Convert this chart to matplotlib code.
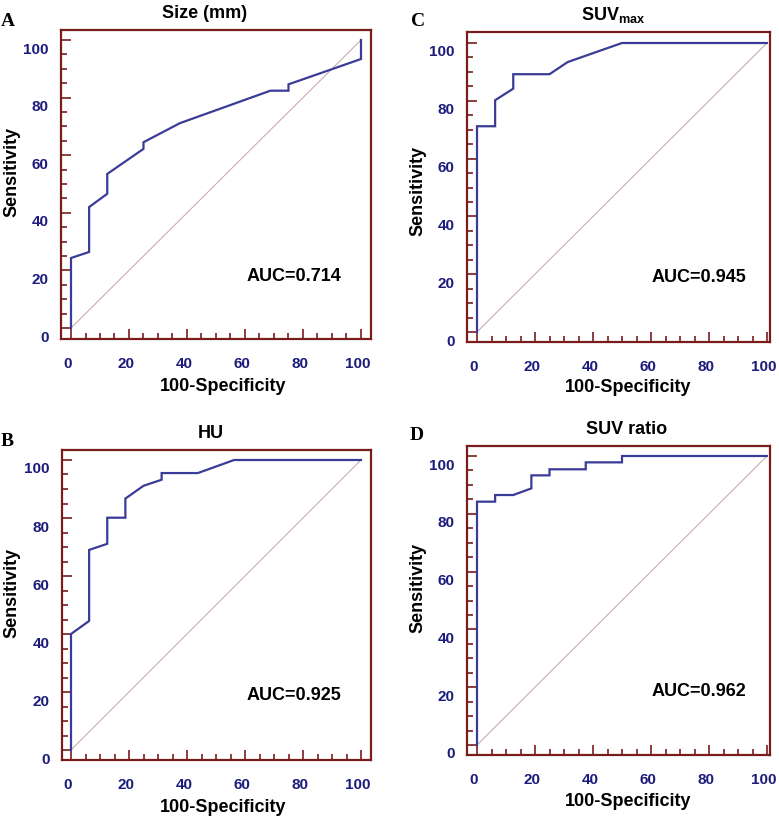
import matplotlib
matplotlib.use("Agg")
import matplotlib.pyplot as plt
import matplotlib.transforms as mtransforms
from matplotlib.ticker import MultipleLocator

# ---- data ----
size_fpr = [0, 0, 6.25, 6.25, 12.5, 12.5, 25, 25, 37.5, 68.75, 75, 75, 100, 100]
size_tpr = [0, 24.3, 26.4, 42.0, 46.6, 53.5, 62.2, 64.5, 71.1, 82.4, 82.4, 84.6, 93.4, 100]

hu_fpr = [0, 0, 6.25, 6.25, 12.5, 12.5, 18.75, 18.75, 25, 31.25, 31.25, 43.75, 56.25, 100]
hu_tpr = [0, 40.0, 44.5, 69.0, 71.1, 80.1, 80.1, 86.7, 91.1, 93.2, 95.5, 95.5, 100, 100]

suvmax_fpr = [0, 0, 6.25, 6.25, 12.5, 12.5, 25, 31.25, 50, 100]
suvmax_tpr = [0, 71.2, 71.2, 80.2, 84.2, 89.2, 89.2, 93.4, 100, 100]

suvratio_fpr = [0, 0, 6.25, 6.25, 12.5, 18.75, 18.75, 25, 25, 37.5, 37.5, 50, 50, 100]
suvratio_tpr = [0, 84.2, 84.2, 86.5, 86.5, 88.8, 93.3, 93.3, 95.4, 95.4, 97.8, 97.8, 100, 100]

titles = ["Size (mm)", "HU", r"SUV$_{\mathregular{max}}$", "SUV ratio"]
aucs = ["AUC=0.714", "AUC=0.925", "AUC=0.945", "AUC=0.962"]
letters = ["A", "B", "C", "D"]
tick_vals = [0, 20, 40, 60, 80, 100]

# ---- style ----
W, H = 779, 817
FRAME = "#7a1c1c"
NAVY = "#1c1c7c"
CURVE = "#3b3b98"
DIAG = "#c4a2a2"
plt.rcParams["font.family"] = ["Liberation Sans", "DejaVu Sans"]
plt.rcParams["mathtext.fontset"] = "custom"
plt.rcParams["mathtext.rm"] = "Liberation Sans:bold"

fig = plt.figure(figsize=(W / 100, H / 100), dpi=100)

def px_rect(l, t, r, b):
    return [l / W, 1 - b / H, (r - l) / W, (b - t) / H]

def fx(x):
    return x / W

def fy(y):
    return 1 - y / H

# pixel geometry: frame (l,t,r,b), data x0,x100, y0,y100
panels = [
    dict(frame=(61, 30, 371, 339), x0=71, x100=361, y0=328, y100=40,
         fpr=size_fpr, tpr=size_tpr, title=titles[0], title_xy=(205, 13),
         auc=aucs[0], auc_xy=(294, 276), letter=letters[0], letter_xy=(8, 22),
         ylab_xy=(12, 172), xlab_xy=(223, 387)),
    dict(frame=(62, 450, 371, 760), x0=71, x100=361, y0=750, y100=460,
         fpr=hu_fpr, tpr=hu_tpr, title=titles[1], title_xy=(211, 433),
         auc=aucs[1], auc_xy=(294, 695), letter=letters[1], letter_xy=(7, 442),
         ylab_xy=(12, 593), xlab_xy=(223, 807)),
    dict(frame=(467, 32, 770, 342), x0=477, x100=767, y0=332, y100=43,
         fpr=suvmax_fpr, tpr=suvmax_tpr, title=titles[2], title_xy=(613, 15),
         auc=aucs[2], auc_xy=(699, 278), letter=letters[2], letter_xy=(418, 21),
         ylab_xy=(418, 191), xlab_xy=(628, 388)),
    dict(frame=(467, 446, 770, 755), x0=477, x100=767, y0=745, y100=456,
         fpr=suvratio_fpr, tpr=suvratio_tpr, title=titles[3], title_xy=(627, 430),
         auc=aucs[3], auc_xy=(699, 691), letter=letters[3], letter_xy=(417, 435),
         ylab_xy=(418, 588), xlab_xy=(628, 802)),
]

for p in panels:
    l, t, r, b = p["frame"]
    ax = fig.add_axes(px_rect(l, t, r, b))
    sx = (p["x100"] - p["x0"]) / 100.0
    sy = (p["y0"] - p["y100"]) / 100.0
    ax.set_xlim(-(p["x0"] - l) / sx, 100 + (r - p["x100"]) / sx)
    ax.set_ylim(-(b - p["y0"]) / sy, 100 + (p["y100"] - t) / sy)

    ax.plot([0, 100], [0, 100], color=DIAG, lw=0.7, zorder=2)
    ax.plot(p["fpr"], p["tpr"], color=CURVE, lw=1.6, zorder=3,
            solid_joinstyle="miter")

    for s in ax.spines.values():
        s.set_color(FRAME)
        s.set_linewidth(1.6)

    ax.set_xticks(tick_vals)
    ax.set_yticks(tick_vals)
    ax.xaxis.set_minor_locator(MultipleLocator(5))
    ax.yaxis.set_minor_locator(MultipleLocator(5))
    ax.tick_params(which="both", direction="in", color=FRAME, width=1.2,
                   top=False, right=False)
    ax.tick_params(which="major", length=7)
    ax.tick_params(which="minor", length=4)
    ax.tick_params(axis="x", which="major", pad=13, labelsize=11,
                   labelcolor=NAVY)
    ax.tick_params(axis="y", which="major", pad=9, labelsize=11,
                   labelcolor=NAVY)
    for lab in ax.get_xticklabels() + ax.get_yticklabels():
        lab.set_fontweight("bold")
    offy = mtransforms.ScaledTranslation(0, -0.08, fig.dpi_scale_trans)
    for lab in ax.get_yticklabels():
        lab.set_transform(lab.get_transform() + offy)
    offx = mtransforms.ScaledTranslation(-0.03, 0, fig.dpi_scale_trans)
    for lab in ax.get_xticklabels():
        lab.set_transform(lab.get_transform() + offx)

    fig.text(fx(p["title_xy"][0]), fy(p["title_xy"][1]), p["title"],
             ha="center", va="center", fontsize=13, fontweight="bold")
    fig.text(fx(p["auc_xy"][0]), fy(p["auc_xy"][1]), p["auc"],
             ha="center", va="center", fontsize=13, fontweight="bold")
    fig.text(fx(p["letter_xy"][0]), fy(p["letter_xy"][1]), p["letter"],
             ha="center", va="center", fontsize=14, fontweight="bold",
             family=["Liberation Serif", "DejaVu Serif"])
    fig.text(fx(p["ylab_xy"][0]), fy(p["ylab_xy"][1]), "Sensitivity",
             ha="center", va="center", rotation=90, fontsize=13,
             fontweight="bold")
    fig.text(fx(p["xlab_xy"][0]), fy(p["xlab_xy"][1]), "100-Specificity",
             ha="center", va="center", fontsize=13, fontweight="bold")

fig.savefig("out.png", dpi=100)
